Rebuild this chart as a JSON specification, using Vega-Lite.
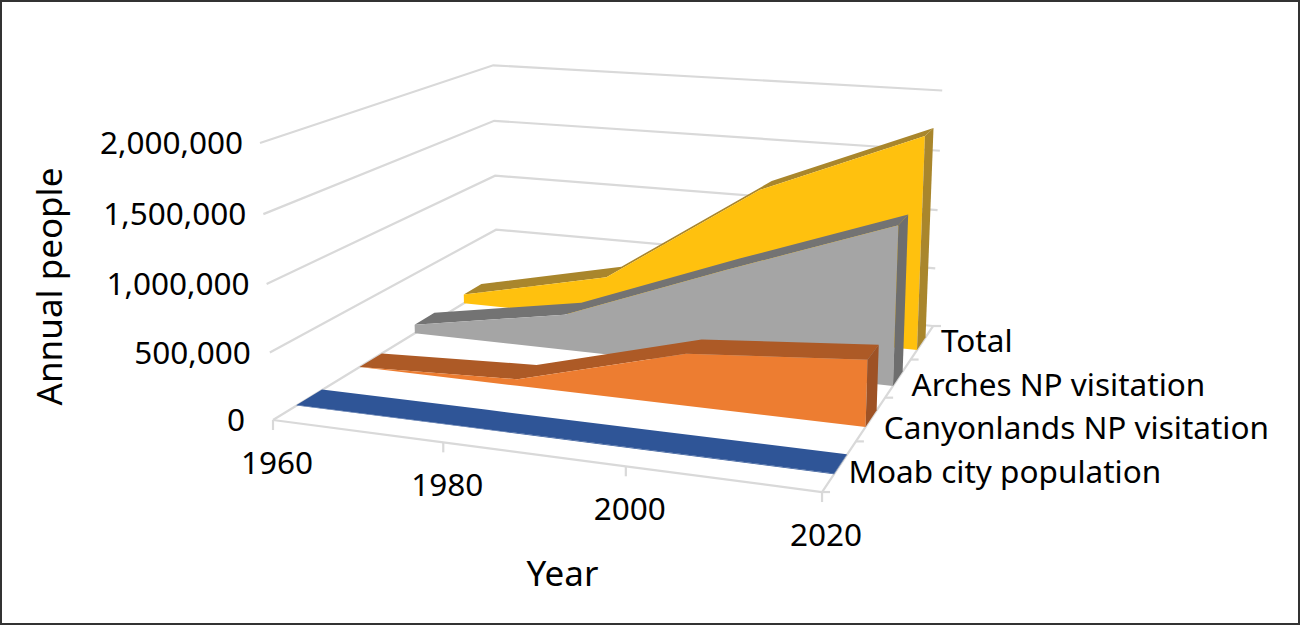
{
  "$schema": "https://vega.github.io/schema/vega-lite/v6.json",
  "width": 1300,
  "height": 625,
  "padding": 0,
  "autosize": {"type": "fit", "contains": "padding"},
  "background": "white",
  "config": {"view": {"stroke": "#333333", "strokeWidth": 4}},
  "datasets": {
    "people": [
      {"series": "Total", "year": 1960, "people": 78000},
      {"series": "Total", "year": 1980, "people": 358000},
      {"series": "Total", "year": 2000, "people": 1215000},
      {"series": "Total", "year": 2020, "people": 1748000},
      {"series": "Arches NP visitation", "year": 1960, "people": 73000},
      {"series": "Arches NP visitation", "year": 1980, "people": 292000},
      {"series": "Arches NP visitation", "year": 2000, "people": 781000},
      {"series": "Arches NP visitation", "year": 2020, "people": 1245000},
      {"series": "Canyonlands NP visitation", "year": 1960, "people": 0},
      {"series": "Canyonlands NP visitation", "year": 1980, "people": 51000},
      {"series": "Canyonlands NP visitation", "year": 2000, "people": 396000},
      {"series": "Canyonlands NP visitation", "year": 2020, "people": 496000},
      {"series": "Moab city population", "year": 1960, "people": 4700},
      {"series": "Moab city population", "year": 1980, "people": 5000},
      {"series": "Moab city population", "year": 2000, "people": 4800},
      {"series": "Moab city population", "year": 2020, "people": 5300}
    ],
    "levels": [
      {"level": 0},
      {"level": 500000},
      {"level": 1000000},
      {"level": 1500000},
      {"level": 2000000}
    ],
    "years": [
      {"year": 1960},
      {"year": 1980},
      {"year": 2000},
      {"year": 2020}
    ],
    "slots": [
      {"slot": 0},
      {"slot": 1},
      {"slot": 2},
      {"slot": 3},
      {"slot": 4}
    ],
    "names": [
      {"series": "Moab city population", "slot": 0},
      {"series": "Canyonlands NP visitation", "slot": 1},
      {"series": "Arches NP visitation", "slot": 2},
      {"series": "Total", "slot": 3}
    ]
  },
  "encoding": {
    "x": {
      "field": "sx",
      "type": "quantitative",
      "scale": {"domain": [0, 1300], "nice": false, "zero": false},
      "axis": {
        "title": "Year",
        "grid": false,
        "domain": false,
        "ticks": false,
        "labels": false,
        "titleFont": "Noto Sans",
        "titleFontSize": 35,
        "titleFontWeight": "normal",
        "titleColor": "#000000",
        "titleX": 562,
        "titleY": -68
      }
    },
    "y": {
      "field": "sy",
      "type": "quantitative",
      "scale": {"domain": [625, 0], "nice": false, "zero": false},
      "axis": {
        "title": "Annual people",
        "grid": false,
        "domain": false,
        "ticks": false,
        "labels": false,
        "titleFont": "Noto Sans",
        "titleFontSize": 35,
        "titleFontWeight": "normal",
        "titleColor": "#000000",
        "titleX": 68,
        "titleY": 286
      }
    }
  },
  "layer": [
    {
      "data": {"name": "levels"},
      "transform": [
        {"calculate": "[0, 1, 2]", "as": "pt"},
        {"flatten": ["pt"]},
        {"calculate": "datum.pt == 2 ? 1 : 0", "as": "u"},
        {"calculate": "datum.pt >= 1 ? 1 : 0", "as": "v"},
        {"calculate": "datum.level / 2000000", "as": "w"},
        {"calculate": "(273 + 466.1 * datum.u + 365.6 * datum.v - 22.1 * datum.w) / (1 - 0.1009 * datum.u + 0.2849 * datum.v - 0.035 * datum.w)", "as": "sx"},
        {"calculate": "(420 + 22.4 * datum.u - 56.4 * datum.v - 282 * datum.w) / (1 - 0.1009 * datum.u + 0.2849 * datum.v - 0.035 * datum.w)", "as": "sy"}
      ],
      "mark": {"type": "line", "color": "#D9D9D9", "strokeWidth": 2.2},
      "encoding": {
        "detail": {"field": "level"},
        "order": {"field": "pt", "type": "quantitative"}
      }
    },
    {
      "data": {"name": "years"},
      "transform": [
        {"calculate": "(datum.year - 1960) / 60", "as": "u"},
        {"calculate": "(273 + 466.1 * datum.u) / (1 - 0.1009 * datum.u)", "as": "sx"},
        {"calculate": "(420 + 22.4 * datum.u) / (1 - 0.1009 * datum.u)", "as": "sy"}
      ],
      "mark": {"type": "line", "color": "#D9D9D9", "strokeWidth": 2.2},
      "encoding": {"order": {"field": "year", "type": "quantitative"}}
    },
    {
      "data": {"name": "slots"},
      "transform": [
        {"calculate": "datum.slot / 4", "as": "v"},
        {"calculate": "(739.1 + 365.6 * datum.v) / (0.8991 + 0.2849 * datum.v)", "as": "sx"},
        {"calculate": "(442.4 - 56.4 * datum.v) / (0.8991 + 0.2849 * datum.v)", "as": "sy"}
      ],
      "mark": {"type": "line", "color": "#D9D9D9", "strokeWidth": 2.2},
      "encoding": {"order": {"field": "slot", "type": "quantitative"}}
    },
    {
      "data": {"name": "years"},
      "transform": [
        {"calculate": "(datum.year - 1960) / 60", "as": "u"},
        {"calculate": "(273 + 466.1 * datum.u) / (1 - 0.1009 * datum.u)", "as": "sx"},
        {"calculate": "(420 + 22.4 * datum.u) / (1 - 0.1009 * datum.u)", "as": "sy"},
        {"calculate": "datum.sy + 10", "as": "sy2"}
      ],
      "mark": {"type": "rule", "color": "#D9D9D9", "strokeWidth": 2.2},
      "encoding": {"y2": {"field": "sy2"}}
    },
    {
      "data": {"name": "slots"},
      "transform": [
        {"calculate": "datum.slot / 4", "as": "v"},
        {"calculate": "(739.1 + 365.6 * datum.v) / (0.8991 + 0.2849 * datum.v)", "as": "sx"},
        {"calculate": "(442.4 - 56.4 * datum.v) / (0.8991 + 0.2849 * datum.v)", "as": "sy"},
        {"calculate": "datum.sx + 8", "as": "sx2"}
      ],
      "mark": {"type": "rule", "color": "#D9D9D9", "strokeWidth": 2.2},
      "encoding": {"x2": {"field": "sx2"}}
    },
    {
      "data": {"name": "people"},
      "transform": [
        {"calculate": "0", "as": "floor"},
        {"fold": ["people", "floor"], "as": ["edge", "height"]},
        {"calculate": "0.084 + 0.2447 * indexof(['Moab city population', 'Canyonlands NP visitation', 'Arches NP visitation', 'Total'], datum.series)", "as": "near"},
        {"calculate": "datum.near + 0.095", "as": "far"},
        {"fold": ["near", "far"], "as": ["face_side", "v"]},
        {"calculate": "['strip', 'front', 'side']", "as": "face"},
        {"flatten": ["face"]},
        {"filter": "(datum.face == 'strip' && datum.edge == 'people') || (datum.face == 'front' && datum.face_side == 'near') || (datum.face == 'side' && datum.year == 2020)"},
        {"calculate": "datum.series + '|' + datum.face", "as": "poly"},
        {"calculate": "datum.face == 'strip' ? (datum.face_side == 'near' ? datum.year : 5000 - datum.year) : datum.face == 'front' ? (datum.edge == 'people' ? datum.year : 5000 - datum.year) : (datum.edge == 'people' ? (datum.face_side == 'near' ? 1 : 2) : (datum.face_side == 'far' ? 3 : 4))", "as": "ord"},
        {"calculate": "(datum.year - 1960) / 60", "as": "u"},
        {"calculate": "datum.height / 2000000", "as": "w"},
        {"calculate": "(273 + 466.1 * datum.u + 365.6 * datum.v - 22.1 * datum.w) / (1 - 0.1009 * datum.u + 0.2849 * datum.v - 0.035 * datum.w)", "as": "sx"},
        {"calculate": "(420 + 22.4 * datum.u - 56.4 * datum.v - 282 * datum.w) / (1 - 0.1009 * datum.u + 0.2849 * datum.v - 0.035 * datum.w)", "as": "sy"}
      ],
      "mark": {"type": "line", "filled": true, "strokeWidth": 0},
      "encoding": {
        "color": {
          "field": "poly",
          "type": "nominal",
          "legend": null,
          "scale": {
            "domain": [
              "Total|strip", "Total|side", "Total|front",
              "Arches NP visitation|strip", "Arches NP visitation|side", "Arches NP visitation|front",
              "Canyonlands NP visitation|strip", "Canyonlands NP visitation|side", "Canyonlands NP visitation|front",
              "Moab city population|strip", "Moab city population|side", "Moab city population|front"
            ],
            "range": [
              "#A9862C", "#A9862C", "#FFC10E",
              "#737373", "#6E6E6E", "#A5A5A5",
              "#AD5A26", "#9E5225", "#ED7D31",
              "#2F5597", "#2F5597", "#2F5597"
            ]
          }
        },
        "order": {"field": "ord", "type": "quantitative"}
      }
    },
    {
      "data": {"name": "levels"},
      "transform": [
        {"calculate": "datum.level / 2000000", "as": "w"},
        {"calculate": "(273 - 22.1 * datum.w) / (1 - 0.035 * datum.w) - (datum.level == 0 ? 11 : datum.level == 500000 ? 2 : 0)", "as": "sx"},
        {"calculate": "(420 - 282 * datum.w) / (1 - 0.035 * datum.w)", "as": "sy"}
      ],
      "mark": {"type": "text", "align": "right", "baseline": "middle", "dx": -17, "dy": 2, "font": "Noto Sans", "fontSize": 31.5, "color": "#000000"},
      "encoding": {"text": {"field": "level", "type": "quantitative", "format": ","}}
    },
    {
      "data": {"name": "years"},
      "transform": [
        {"calculate": "(datum.year - 1960) / 60", "as": "u"},
        {"calculate": "(273 + 466.1 * datum.u) / (1 - 0.1009 * datum.u)", "as": "sx"},
        {"calculate": "(420 + 22.4 * datum.u) / (1 - 0.1009 * datum.u)", "as": "sy"}
      ],
      "mark": {"type": "text", "align": "center", "baseline": "middle", "dx": 4, "dy": 45, "font": "Noto Sans", "fontSize": 31.5, "color": "#000000"},
      "encoding": {"text": {"field": "year", "type": "nominal"}}
    },
    {
      "data": {"name": "names"},
      "transform": [
        {"calculate": "[0.094, 0.323, 0.579, 0.884][datum.slot]", "as": "v"},
        {"calculate": "(739.1 + 365.6 * datum.v) / (0.8991 + 0.2849 * datum.v) + [-5, 1, 0, 0][datum.slot]", "as": "sx"},
        {"calculate": "(442.4 - 56.4 * datum.v) / (0.8991 + 0.2849 * datum.v)", "as": "sy"}
      ],
      "mark": {"type": "text", "align": "left", "baseline": "middle", "dx": 18, "dy": 2, "font": "Noto Sans", "fontSize": 31.5, "color": "#000000"},
      "encoding": {"text": {"field": "series", "type": "nominal"}}
    }
  ]
}
